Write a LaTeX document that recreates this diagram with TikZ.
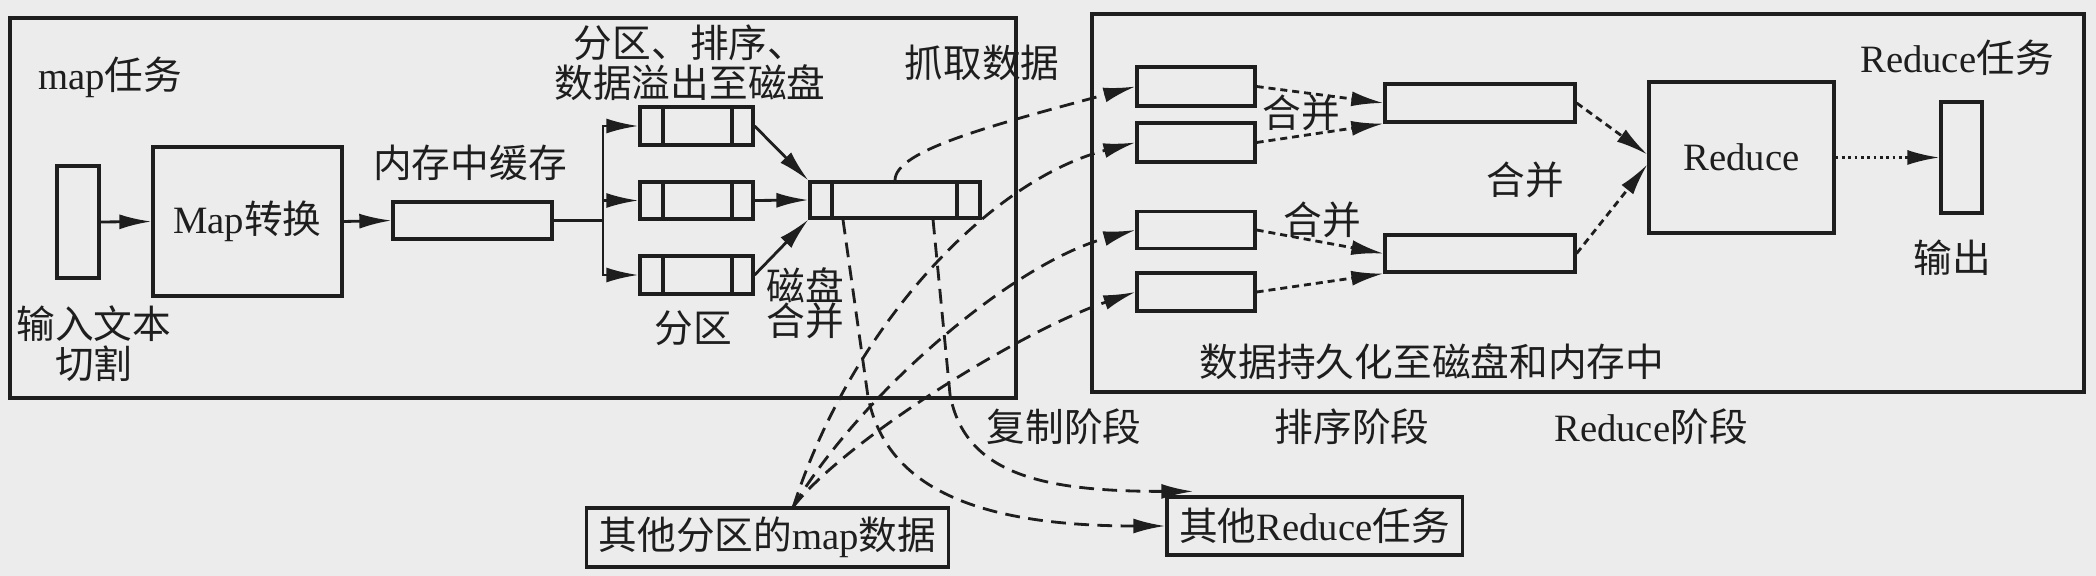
\documentclass[tikz,border=0pt]{standalone}
\usepackage{fontspec}
\setmainfont{Liberation Serif}
\newfontfamily\cjk{Noto Sans CJK SC}
\newcommand{\zh}[1]{{\cjk #1}}
\usetikzlibrary{arrows.meta}
\definecolor{ink}{HTML}{1E1E1E}
\definecolor{paper}{HTML}{ECECEC}
\tikzset{
  lab/.style={text=ink, font=\fontsize{11}{11.4}\selectfont, inner sep=0pt, align=center},
  box/.style={draw=ink, line width=0.9pt, inner sep=0pt},
  slot/.style 2 args={box, path picture={
      \draw[draw=ink, line width=0.9pt] ([xshift=#1]path picture bounding box.north west) -- ([xshift=#1]path picture bounding box.south west);
      \draw[draw=ink, line width=0.9pt] ([xshift=-#2]path picture bounding box.north east) -- ([xshift=-#2]path picture bounding box.south east);}},
  frame/.style={draw=ink, line width=1pt},
  arr/.style={draw=ink, line width=0.8pt, -{Latex[length=0.32cm,width=0.15cm]}},
  fetch/.style={arr, dash pattern=on 4.2pt off 2.4pt},
  merge/.style={arr, dash pattern=on 2pt off 1.4pt},
  emit/.style={arr, densely dotted}
}

\begin{document}
\begin{tikzpicture}[x=0.01cm, y=-0.01cm]
\fill[paper] (0,0) rectangle (2096,576);
\useasboundingbox (0,0) rectangle (2096,576);

% map task
\draw[frame] (10,18) rectangle (1016,398);
\node[lab] (tMap) at (110,77) {map\zh{任务}};
\node[box, minimum width=0.42cm, minimum height=1.12cm] (split) at (78,222) {};
\node[lab] (tSplit) at (94,344) {\zh{输入文本}\\\zh{切割}};
\node[box, lab, minimum width=1.89cm, minimum height=1.49cm] (mapfn) at (247.5,221.5) {Map\zh{转换}};
\node[lab] (tMem) at (470,163) {\zh{内存中缓存}};
\node[box, minimum width=1.59cm, minimum height=0.37cm] (mem) at (472.5,220.5) {};
\node[lab] (tSpill) at (690,63) {\zh{分区、排序、}\\\zh{数据溢出至磁盘}};
\node[slot={0.23cm}{0.21cm}, minimum width=1.13cm, minimum height=0.38cm] (p1) at (696.5,126) {};
\node[slot={0.23cm}{0.21cm}, minimum width=1.13cm, minimum height=0.37cm] (p2) at (696.5,200.5) {};
\node[slot={0.23cm}{0.21cm}, minimum width=1.13cm, minimum height=0.38cm] (p3) at (696.5,275) {};
\node[lab] (tPart) at (693,328) {\zh{分区}};
\node[lab] (tDisk) at (805,303) {\zh{磁盘}\\[-1.5pt]\zh{合并}};
\node[slot={0.22cm}{0.23cm}, minimum width=1.70cm, minimum height=0.36cm] (spill) at (895,200) {};
\node[lab] (tFetch) at (982,63) {\zh{抓取数据}};

\draw[arr] (split.east) -- (mapfn.west);
\draw[arr] (mapfn.east) -- (mem.west);
\coordinate (fork) at (603,220.5);
\draw[draw=ink, line width=0.8pt] (mem.east) -- (fork);
\draw[arr] (fork) |- (p1.west);
\draw[arr] (fork) |- (p2.west);
\draw[arr] (fork) |- (p3.west);
\draw[arr] (p1.east) -- (spill.north west);
\draw[arr] (p2.east) -- (spill.west);
\draw[arr] (p3.east) -- (spill.south west);

% reduce task
\draw[frame] (1092,14) rectangle (2084,392);
\node[lab] (tRed) at (1957,58) {Reduce\zh{任务}};
\node[box, minimum width=1.18cm, minimum height=0.39cm] (r1) at (1196,86.5) {};
\node[box, minimum width=1.18cm, minimum height=0.39cm] (r2) at (1196,142.5) {};
\node[box, minimum width=1.18cm, minimum height=0.37cm] (r3) at (1196,230) {};
\node[box, minimum width=1.18cm, minimum height=0.38cm] (r4) at (1196,292) {};
\node[box, minimum width=1.90cm, minimum height=0.38cm] (m1) at (1480,103) {};
\node[box, minimum width=1.90cm, minimum height=0.37cm] (m2) at (1480,253.5) {};
\node[box, lab, minimum width=1.85cm, minimum height=1.51cm] (red) at (1741.5,157.5) {Reduce};
\node[box, minimum width=0.41cm, minimum height=1.11cm] (out) at (1961.5,157.5) {};
\node[lab] (tOut) at (1952,258) {\zh{输出}};
\node[lab] (tMg1) at (1301,113) {\zh{合并}};
\node[lab] (tMg2) at (1322,220) {\zh{合并}};
\node[lab] (tMg3) at (1525,180) {\zh{合并}};
\node[lab] (tKeep) at (1432,362) {\zh{数据持久化至磁盘和内存中}};

\draw[merge] (r1.east) -- (m1.west);
\draw[merge] (r2.east) -- (m1.south west);
\draw[merge] (r3.east) -- (m2.west);
\draw[merge] (r4.east) -- (m2.south west);
\draw[merge] (m1.east) -- ([yshift=0.03cm]red.west);
\draw[merge] (m2.east) -- ([yshift=-0.07cm]red.west);
\draw[emit] (red.east) -- (out.west);

% phases and other tasks
\node[lab] (tCopy) at (1064,427) {\zh{复制阶段}};
\node[lab] (tSort) at (1352,427) {\zh{排序阶段}};
\node[lab] (tRPh) at (1651,427) {Reduce\zh{阶段}};
\node[box, lab, minimum width=3.61cm, minimum height=0.59cm] (othmap) at (767.5,537.5) {\zh{其他分区的}map\zh{数据}};
\node[box, lab, minimum width=2.95cm, minimum height=0.58cm] (othred) at (1314.5,526) {\zh{其他}Reduce\zh{任务}};
\coordinate (om) at ([xshift=0.26cm]othmap.north);

\draw[fetch] (spill.north) .. controls +(0,-30) and +(-144,39) .. (r1.west);
\draw[fetch] (om) .. controls +(57,-178) and +(-147,38) .. (r2.west);
\draw[fetch] (om) .. controls +(64,-108) and +(-127,35) .. (r3.west);
\draw[fetch] (om) .. controls +(49,-63) and +(-120,41) .. (r4.west);
\draw[fetch] ([xshift=-0.52cm]spill.south) -- ++(25,177) .. controls +(17,85) and +(-200,0) .. (othred.west);
\draw[fetch] ([xshift=0.38cm]spill.south) -- ++(17,175) .. controls +(15,80) and +(-150,0) .. ([xshift=0.28cm,yshift=0.04cm]othred.north west);
\end{tikzpicture}
\end{document}
